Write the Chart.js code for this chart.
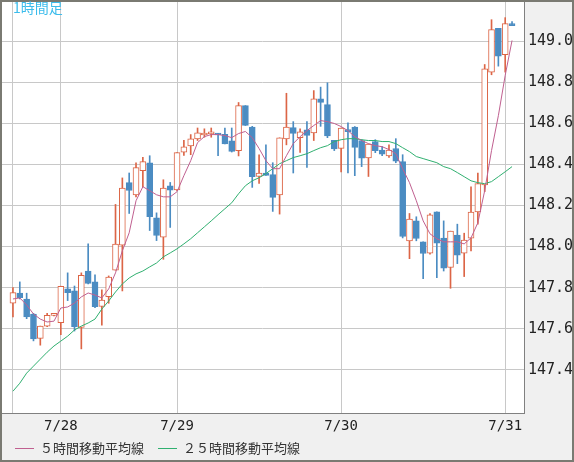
<!DOCTYPE html>
<html>
<head>
<meta charset="utf-8">
<script src="https://cdn.jsdelivr.net/npm/chart.js@4"></script>
<style>
html,body{margin:0;padding:0;background:#f0f0f0;}
#wrap{width:574px;height:462px;}
</style>
</head>
<body>
<div id="wrap"><canvas id="chart" width="574" height="462"></canvas></div>
<script>
// 1時間足 ローソク足 (open, high, low, close)
const opens  = [147.724,147.774,147.745,147.672,147.553,147.612,147.665,147.629,147.794,147.784,147.607,147.881,147.828,147.709,147.756,147.885,148.007,148.311,148.251,148.369,148.408,148.140,148.046,148.296,148.276,148.459,148.490,148.524,148.543,148.548,148.551,148.546,148.514,148.467,148.686,148.581,148.341,148.358,148.350,148.251,148.524,148.579,148.530,148.568,148.553,148.719,148.691,148.517,148.478,148.568,148.582,148.516,148.431,148.511,148.470,148.441,148.477,148.413,148.028,148.125,148.023,147.968,148.169,148.041,147.898,148.056,147.968,148.041,148.168,148.300,148.849,149.062,148.934,149.081];
const highs  = [147.800,147.828,147.773,147.675,147.613,147.675,147.667,147.807,147.872,147.808,147.872,148.013,147.862,147.790,147.857,148.205,148.334,148.358,148.407,148.434,148.442,148.164,148.325,148.312,148.457,148.517,148.545,148.577,148.573,148.577,148.551,148.577,148.577,148.701,148.686,148.585,148.446,148.495,148.408,148.529,148.746,148.608,148.573,148.608,148.759,148.776,148.797,148.517,148.577,148.602,148.584,148.520,148.499,148.520,148.486,148.495,148.525,148.447,148.161,148.145,148.023,148.161,148.169,148.125,148.075,148.109,148.065,148.291,148.358,148.886,149.104,149.062,149.114,149.095];
const lows   = [147.658,147.745,147.649,147.541,147.520,147.610,147.663,147.571,147.737,147.589,147.502,147.818,147.702,147.618,147.724,147.885,147.784,148.161,148.242,148.291,148.078,148.029,147.938,148.093,148.272,148.444,148.447,148.516,148.532,148.532,148.442,148.499,148.460,148.441,148.589,148.288,148.307,148.346,148.171,148.158,148.495,148.358,148.458,148.385,148.516,148.585,148.530,148.467,148.363,148.358,148.345,148.389,148.341,148.457,148.442,148.434,148.408,148.042,147.941,148.028,147.844,147.963,147.849,147.881,147.797,147.917,147.854,147.979,148.109,148.267,148.836,148.878,148.849,149.075];
const closes = [147.776,147.751,147.658,147.551,147.613,147.665,147.665,147.807,147.776,147.610,147.860,147.821,147.707,147.739,147.852,148.012,148.285,148.273,148.384,148.413,148.146,148.054,148.285,148.275,148.457,148.485,148.524,148.553,148.550,148.548,148.543,148.499,148.463,148.686,148.590,148.340,148.358,148.346,148.239,148.529,148.582,148.551,148.558,148.541,148.719,148.702,148.538,148.475,148.577,148.559,148.483,148.430,148.499,148.467,148.449,148.470,148.415,148.049,148.134,148.039,147.966,148.155,148.017,147.895,148.075,147.958,148.031,148.168,148.306,148.865,149.056,148.927,149.085,149.075];
// 移動平均線
const ma5  = [147.745,147.750,147.716,147.672,147.647,147.633,147.637,147.701,147.706,147.725,147.755,147.774,147.764,147.750,147.794,147.872,147.979,148.067,148.223,148.291,148.272,148.252,148.242,148.242,148.267,148.345,148.418,148.506,148.535,148.545,148.545,148.540,148.530,148.550,148.560,148.530,148.477,148.418,148.379,148.379,148.442,148.501,148.535,148.564,148.589,148.613,148.608,148.599,148.584,148.564,148.535,148.516,148.501,148.491,148.486,148.472,148.452,148.379,148.311,148.223,148.125,148.062,148.038,148.023,148.023,148.023,148.013,148.042,148.116,148.272,148.467,148.637,148.833,149.003];
const ma25 = [147.296,147.335,147.384,147.418,147.452,147.486,147.516,147.540,147.564,147.594,147.613,147.628,147.647,147.696,147.735,147.779,147.818,147.847,147.867,147.881,147.901,147.920,147.950,147.969,147.989,148.013,148.038,148.067,148.096,148.125,148.155,148.184,148.213,148.257,148.296,148.320,148.335,148.355,148.379,148.403,148.418,148.433,148.442,148.452,148.467,148.481,148.491,148.511,148.520,148.525,148.525,148.520,148.516,148.516,148.511,148.511,148.501,148.481,148.462,148.438,148.428,148.418,148.408,148.389,148.379,148.360,148.340,148.320,148.311,148.306,148.316,148.340,148.364,148.389];
// 目盛り
const dateTicks = [0, 7, 24, 48, 72];
const dateLabels = ['', '7/28', '7/29', '7/30', '7/31'];
const priceTicks = [147.4, 147.6, 147.8, 148.0, 148.2, 148.4, 148.6, 148.8, 149.0];

const UP = '#dc6546', DOWN = '#4b8cc2';
const rising = opens.map((o, i) => closes[i] >= o);

const bodies = opens.map((o, i) => ({x: i, y: [o, closes[i]]}));
const wicks = opens.map((o, i) => ({x: i, y: [lows[i], highs[i]]}));

const bgPlugin = {
  id: 'bg',
  beforeDraw(chart) {
    const {ctx, chartArea: a} = chart;
    ctx.save();
    ctx.fillStyle = '#f0f0f0';
    ctx.fillRect(0, 0, chart.width, chart.height);
    ctx.fillStyle = '#ffffff';
    ctx.fillRect(a.left, a.top, a.right - a.left, a.bottom - a.top);
    ctx.restore();
  },
  afterDraw(chart) {
    const {ctx, chartArea: a} = chart;
    ctx.save();
    ctx.strokeStyle = '#808080';
    ctx.lineWidth = 1;
    ctx.strokeRect(a.left + 0.5, a.top - 0.5, a.right - a.left, a.bottom - a.top + 1);
    ctx.lineWidth = 2;
    ctx.strokeStyle = '#7a7a72';
    ctx.strokeRect(1, 1, chart.width - 2, chart.height - 2);
    // title
    ctx.fillStyle = '#3bbcec';
    ctx.font = '14px "Noto Sans CJK JP", sans-serif';
    ctx.textBaseline = 'top';
    ctx.fillText('1時間足', 13, 1);
    // legend
    ctx.textBaseline = 'middle';
    ctx.font = '13px "Noto Sans CJK JP", sans-serif';
    ctx.lineWidth = 1;
    ctx.strokeStyle = '#c06090';
    ctx.beginPath(); ctx.moveTo(15, 448.5); ctx.lineTo(34, 448.5); ctx.stroke();
    ctx.fillStyle = '#333333';
    ctx.fillText('５時間移動平均線', 40, 448);
    ctx.strokeStyle = '#30b070';
    ctx.beginPath(); ctx.moveTo(158, 448.5); ctx.lineTo(177, 448.5); ctx.stroke();
    ctx.fillText('２５時間移動平均線', 183, 448);
    ctx.restore();
  }
};

new Chart(document.getElementById('chart'), {
  type: 'bar',
  data: {
    datasets: [
      {
        type: 'line', label: 'ma5', data: ma5.map((v, i) => ({x: i, y: v})),
        borderColor: '#c06090', borderWidth: 1, pointRadius: 0, tension: 0, order: 1
      },
      {
        type: 'line', label: 'ma25', data: ma25.map((v, i) => ({x: i, y: v})),
        borderColor: '#30b070', borderWidth: 1, pointRadius: 0, tension: 0, order: 1
      },
      {
        label: 'body', data: bodies, grouped: false, barThickness: 6, minBarLength: 2,
        backgroundColor: rising.map(r => r ? '#ffffff' : DOWN),
        borderColor: rising.map(r => r ? UP : DOWN),
        borderWidth: 1, borderSkipped: false, order: 2
      },
      {
        label: 'wick', data: wicks, grouped: false, barThickness: 1,
        backgroundColor: rising.map(r => r ? UP : DOWN),
        borderWidth: 0, order: 3
      }
    ]
  },
  options: {
    responsive: false,
    animation: false,
    layout: {padding: {left: 1, top: 1, right: 0, bottom: 24}},
    plugins: {legend: {display: false}, tooltip: {enabled: false}},
    scales: {
      x: {
        type: 'linear', min: -1.75, max: 74.75, offset: false,
        grid: {color: '#c8c8c8', drawTicks: false, offset: false},
        border: {display: false},
        afterBuildTicks(s) { s.ticks = dateTicks.map(v => ({value: v})); },
        afterFit(s) { s.height = 25; s.paddingLeft = 0; s.paddingRight = 0; },
        ticks: {
          padding: 5, color: '#222', maxRotation: 0,
          font: {family: 'DejaVu Sans Mono', size: 14},
          callback: (v) => dateLabels[dateTicks.indexOf(v)]
        }
      },
      y: {
        position: 'right', min: 147.19, max: 149.195,
        grid: {color: '#c8c8c8', drawTicks: false},
        border: {display: false},
        afterBuildTicks(s) { s.ticks = priceTicks.map(v => ({value: v})); },
        afterFit(s) { s.width = 50; s.paddingTop = 0; s.paddingBottom = 0; },
        ticks: {
          padding: 4, color: '#222',
          font: {family: 'DejaVu Sans Mono', size: 15},
          callback: (v) => v.toFixed(1)
        }
      }
    }
  },
  plugins: [bgPlugin]
});
</script>
</body>
</html>
